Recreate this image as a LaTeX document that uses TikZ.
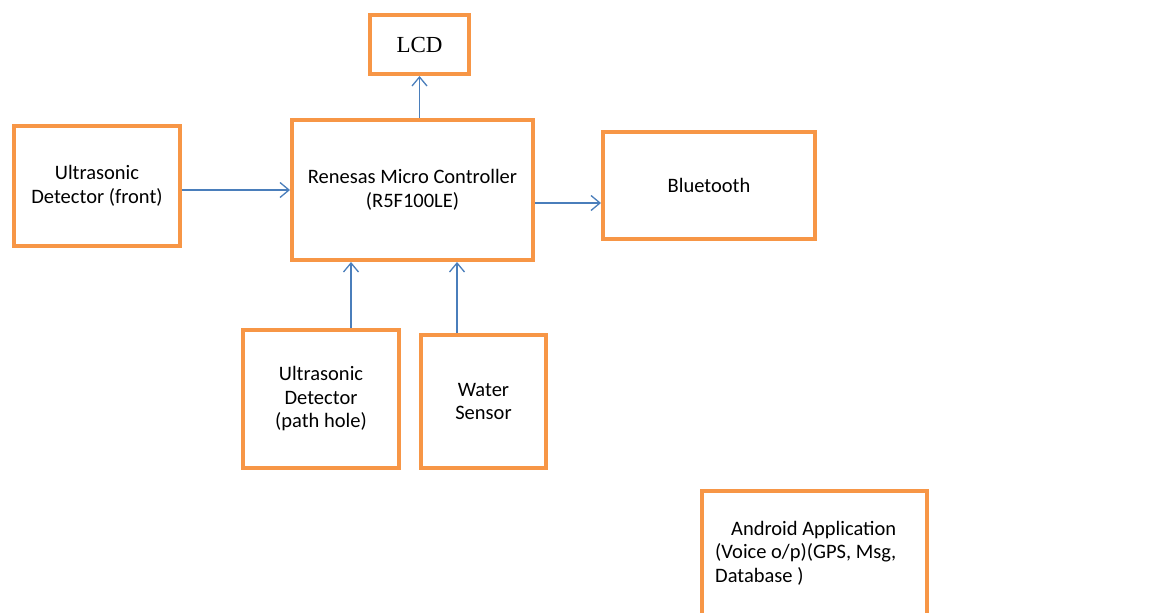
\documentclass[tikz,border=0pt]{standalone}
\usepackage{fontspec}
\setmainfont{Carlito}
\newfontfamily\lcdfont{Liberation Serif}
\usetikzlibrary{arrows.meta}
\definecolor{boxorange}{RGB}{247,150,70}
\definecolor{linkblue}{RGB}{74,126,187}

\begin{document}
\begin{tikzpicture}[x=1pt, y=-1pt,
    blk/.style = {draw=boxorange, line width=4pt, align=center, inner sep=0pt,
                  font=\fontsize{20.5}{23.5}\selectfont},
    arr/.style = {draw=linkblue, line width=1.3pt, -{Straight Barb[length=9pt,width=15pt]}}]

    \useasboundingbox (0,0) rectangle (1168,613);
    \clip (0,0) rectangle (1168,613);

    \node[blk, minimum width=99pt, minimum height=59pt, font=\lcdfont\fontsize{23}{26}\selectfont] (lcd) at (419.5, 44.5) {LCD};
    \node[blk, minimum width=166pt, minimum height=120pt] (front) at (97, 186) {Ultrasonic\\Detector (front)};
    \node[blk, minimum width=241pt, minimum height=140pt] (mcu) at (412.5, 190) {Renesas Micro Controller\\(R5F100LE)};
    \node[blk, minimum width=212pt, minimum height=107pt] (bt) at (709, 185.5) {Bluetooth};
    \node[blk, minimum width=156pt, minimum height=138pt] (hole) at (321, 399) {Ultrasonic\\Detector\\(path hole)};
    \node[blk, minimum width=125pt, minimum height=133pt] (water) at (483.5, 401.5) {Water\\Sensor};
    \node[blk, minimum width=225pt, minimum height=147pt] (android) at (814.5, 564.5) {};
    \node[align=left, inner sep=0pt, anchor=north west, font=\fontsize{20.5}{23.5}\selectfont] (androidtxt)
        at (715, 521) {\hspace*{16pt}Android Application\\(Voice o/p)(GPS, Msg,\\Database )};

    \coordinate (btin) at ([yshift=-17.5pt]bt.west);
    \coordinate (holeout) at ([xshift=30pt]hole.north);
    \coordinate (waterout) at ([xshift=-26.5pt]water.north);

    \draw[arr] (front.east |- mcu.west) -- (mcu.west);
    \draw[arr] (mcu.north -| lcd.south) -- (lcd.south);
    \draw[arr] (mcu.east |- btin) -- (btin);
    \draw[arr] (holeout) -- (holeout |- mcu.south);
    \draw[arr] (waterout) -- (waterout |- mcu.south);

\end{tikzpicture}
\end{document}
